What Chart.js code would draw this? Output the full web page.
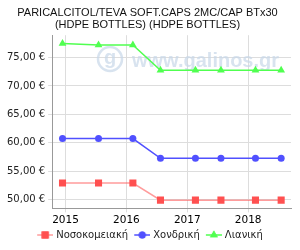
<!DOCTYPE html>
<html><head><meta charset="utf-8">
<script src="https://cdn.jsdelivr.net/npm/chart.js@4/dist/chart.umd.min.js"></script>
<style>html,body{margin:0;padding:0;background:#fff}#wrap{width:300px;height:250px}</style>
</head><body><div id="wrap"><canvas id="c" width="300" height="250"></canvas></div>
<script>
const titleLines = ["PARICALCITOL/TEVA SOFT.CAPS 2MC/CAP BTx30", "(HDPE BOTTLES) (HDPE BOTTLES)"];
const dates = ["2014-12-14","2015-07-18","2016-02-09","2016-07-24","2017-02-19","2017-07-22","2018-02-14","2018-07-18"];
const seriesNames = ["Νοσοκομειακή","Χονδρική","Λιανική"];
const hospital = [52.95,52.95,52.95,49.95,49.95,49.95,49.95,49.95];
const wholesale = [60.75,60.75,60.75,57.30,57.30,57.30,57.30,57.30];
const retail = [77.45,77.20,77.20,72.75,72.75,72.75,72.75,72.75];
const yearTicks = [2015,2016,2017,2018];
const yTicks = [50,55,60,65,70,75];

function toYear(s){const d=new Date(s+"T00:00:00Z");const y=d.getUTCFullYear();const a=Date.UTC(y,0,1),b=Date.UTC(y+1,0,1);return y+(d-a)/(b-a);}
const xs = dates.map(toYear);
const pts = arr => arr.map((v,i)=>({x:xs[i],y:v}));

const colors = [
 {line:"rgba(255,90,90,0.6)", pt:"#ff5050", style:"rect", r:5},
 {line:"#5050ff", pt:"#5050ff", style:"circle", r:3.5},
 {line:"#50ff50", pt:"#50ff50", style:"triangle", r:4.5}
];
function legendIcon(c){
  const cv=document.createElement('canvas');cv.width=23;cv.height=10;
  const ctx=cv.getContext('2d');
  ctx.strokeStyle=c.line;ctx.lineWidth=1.5;ctx.beginPath();ctx.moveTo(7,5);ctx.lineTo(23,5);ctx.stroke();
  ctx.fillStyle=c.pt;
  Chart.helpers.drawPoint(ctx,{pointStyle:c.style,radius:c.r,borderWidth:0},15,5);
  ctx.fill();
  return cv;
}
const watermark={id:'wm',beforeDatasetsDraw(chart){
  const ctx=chart.ctx;ctx.save();
  const col="rgba(200,215,232,0.7)";
  ctx.strokeStyle=col;ctx.lineWidth=2.5;
  ctx.beginPath();ctx.arc(110,59,12,0,Math.PI*2);ctx.stroke();
  ctx.fillStyle=col;
  ctx.font="bold 20px 'Liberation Sans'";ctx.textBaseline="alphabetic";ctx.textAlign="center";
  ctx.fillText("g",110,64);
  ctx.textAlign="left";ctx.font="bold 20px 'Liberation Sans'";
  ctx.fillText("www.galinos.gr",132,67);
  ctx.restore();}};
const data={datasets:[hospital,wholesale,retail].map((arr,i)=>({
  label:seriesNames[i],data:pts(arr),borderColor:colors[i].line,backgroundColor:colors[i].pt,
  pointBackgroundColor:colors[i].pt,pointBorderColor:colors[i].pt,pointStyle:colors[i].style,
  pointRadius:colors[i].r,pointBorderWidth:0,borderWidth:1.5,tension:0}))};
new Chart(document.getElementById('c'),{type:'line',data,plugins:[watermark],options:{
  responsive:false,animation:false,devicePixelRatio:1,
  layout:{padding:{left:4,right:9,top:0,bottom:0}},
  plugins:{
    title:{display:true,text:titleLines,color:"#111",font:{family:"'Liberation Sans'",size:11,weight:'normal',lineHeight:1.1},padding:{top:7,bottom:4}},
    legend:{position:'bottom',labels:{color:"#222",font:{family:"'DejaVu Sans'",size:10},usePointStyle:true,pointStyleWidth:19,boxWidth:19,boxHeight:10,padding:1,
      generateLabels(chart){return chart.data.datasets.map((d,i)=>({text:d.label,pointStyle:legendIcon(colors[i]),datasetIndex:i,fillStyle:colors[i].pt,strokeStyle:colors[i].line,lineWidth:0,fontColor:"#222"}));}}},
    tooltip:{enabled:false}},
  scales:{
    x:{type:'linear',min:toYear("2014-10-13"),max:toYear("2018-09-15"),
      afterBuildTicks(ax){ax.ticks=yearTicks.map(v=>({value:v}));},
      ticks:{color:"#000",font:{family:"'DejaVu Sans'",size:10.5},maxRotation:0,padding:2,callback:v=>String(v)},
      grid:{color:"#ddd",borderDash:[3,3],drawTicks:true,tickLength:4},border:{color:"#999",width:1}},
    y:{min:48.5,max:78.9,
      afterBuildTicks(ax){ax.ticks=yTicks.map(v=>({value:v}));},
      ticks:{color:"#222",font:{family:"'DejaVu Sans'",size:10},callback:v=>v.toFixed(2).replace('.',',')+" €"},
      grid:{color:"#ddd",borderDash:[3,3],tickLength:4},border:{color:"#999",width:1}}
  }}});
</script></body></html>
